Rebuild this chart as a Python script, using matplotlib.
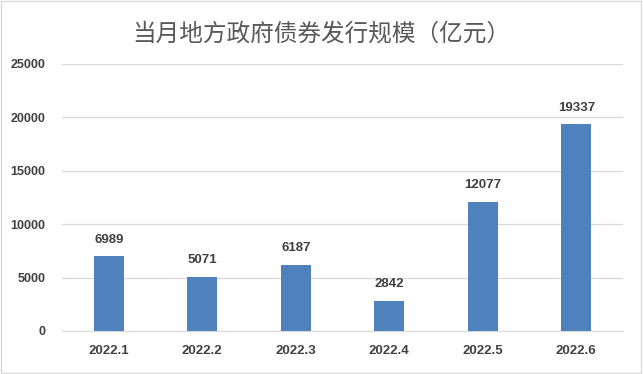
import matplotlib.pyplot as plt
from matplotlib.patches import Rectangle

months = ["2022.1", "2022.2", "2022.3", "2022.4", "2022.5", "2022.6"]
issue_amount = [6989, 5071, 6187, 2842, 12077, 19337]
y_ticks = [0, 5000, 10000, 15000, 20000, 25000]

plt.rcParams['font.family'] = ['Liberation Sans', 'Noto Sans CJK SC', 'DejaVu Sans']

fig = plt.figure(figsize=(6.43, 3.74), dpi=100)
ax = fig.add_axes([0.0964, 0.115, 0.8726, 0.714])

x = range(len(months))
ax.bar(x, issue_amount, width=0.32, color="#4F81BD", zorder=3)

# 数据标签
for i, v in enumerate(issue_amount):
    ax.text(i, v + 1000, str(v), ha="center", va="bottom",
            fontsize=9.5, fontweight="bold", color="#404040")

ax.set_xlim(-0.5, len(months) - 0.5)
ax.set_ylim(0, 25000)
ax.set_yticks(y_ticks)
ax.set_yticklabels([str(t) for t in y_ticks])
ax.set_xticks(list(x))
ax.set_xticklabels(months)
ax.tick_params(axis="both", length=0, labelsize=9.5, labelcolor="#404040")
ax.tick_params(axis="y", labelsize=9)
for lab in ax.get_xticklabels() + ax.get_yticklabels():
    lab.set_fontweight("bold")
ax.tick_params(axis="x", pad=10)
ax.tick_params(axis="y", pad=12)

ax.grid(axis="y", color="#D9D9D9", linewidth=0.9, zorder=0)
for s in ["top", "right", "left"]:
    ax.spines[s].set_visible(False)
ax.spines["bottom"].set_color("#D9D9D9")

fig.text(0.5, 0.91, "当月地方政府债券发行规模（亿元）", ha="center", va="center",
         fontsize=17, color="#595959", family=["Noto Sans CJK SC", "DejaVu Sans"])

# 外边框
fig.patches.append(Rectangle((0.002, 0.003), 0.995, 0.994, transform=fig.transFigure,
                             fill=False, edgecolor="#D9D9D9", linewidth=1))

fig.savefig("out.png", dpi=100)
